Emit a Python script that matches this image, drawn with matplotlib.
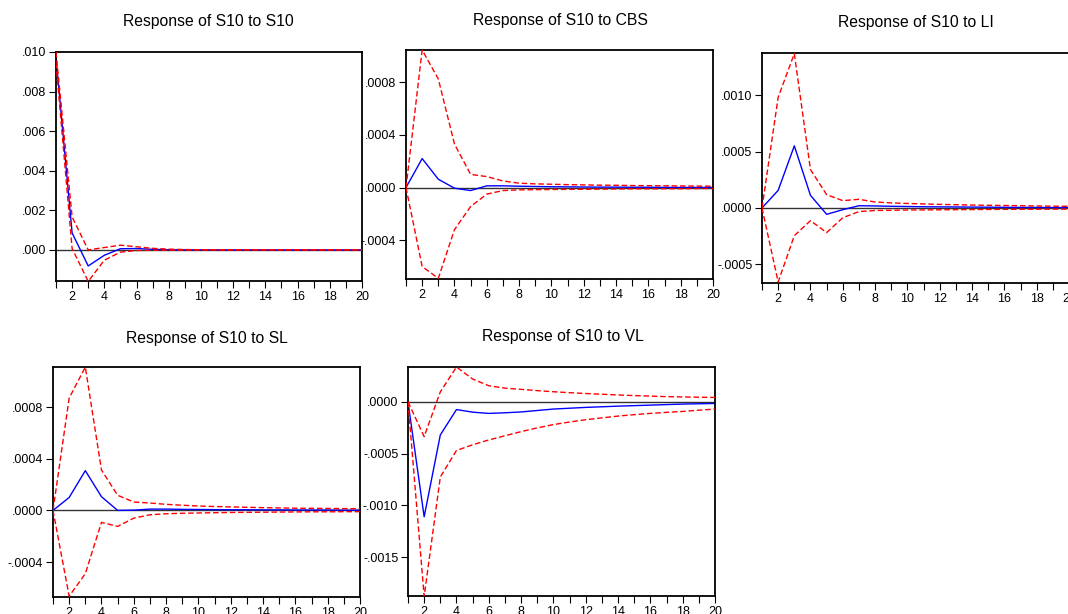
import matplotlib
matplotlib.use("Agg")
import matplotlib.pyplot as plt

plt.rcParams['font.family'] = ['Liberation Sans', 'DejaVu Sans']

periods = list(range(1, 21))

titles = ["Response of S10 to S10", "Response of S10 to CBS", "Response of S10 to LI",
          "Response of S10 to SL", "Response of S10 to VL"]

# Response of S10 to S10
s10_resp = [0.00972, 0.00086, -0.00081, -0.00027, 0.00006, 0.00007, 0.00003, 0.00001, 0.000005, 0.000003,
            0.000002, 0.000001, 0.000001, 0.0, 0.0, 0.0, 0.0, 0.0, 0.0, 0.0]
s10_up = [0.01000, 0.00167, 0.00000, 0.00012, 0.00024, 0.00016, 0.00008, 0.00004, 0.00002, 0.00001,
          0.00001, 0.000008, 0.000006, 0.000005, 0.000004, 0.000003, 0.000003, 0.000002, 0.000002, 0.000002]
s10_lo = [0.00944, 0.00007, -0.00159, -0.00052, -0.00011, -0.00003, -0.00002, -0.00001, -0.000008, -0.000006,
          -0.000005, -0.000004, -0.000004, -0.000003, -0.000003, -0.000002, -0.000002, -0.000002, -0.000002, -0.000002]

# Response of S10 to CBS
cbs_resp = [0.0, 0.00022, 0.000063, -0.000005, -0.000023, 0.000013, 0.000013, 0.00001, 0.000008, 0.000006,
            0.000005, 0.000004, 0.000003, 0.000003, 0.000002, 0.000002, 0.000001, 0.000001, 0.000001, 0.000001]
cbs_up = [0.0, 0.001045, 0.000825, 0.00033, 0.0001, 0.000083, 0.00005, 0.000033, 0.000028, 0.000025,
          0.000022, 0.00002, 0.000018, 0.000017, 0.000015, 0.000014, 0.000013, 0.000012, 0.000011, 0.00001]
cbs_lo = [0.0, -0.0006, -0.00069, -0.00032, -0.000144, -0.00005, -0.000023, -0.000018, -0.000016, -0.000015,
          -0.000014, -0.000013, -0.000012, -0.000011, -0.00001, -0.00001, -0.000009, -0.000009, -0.000008, -0.000008]

# Response of S10 to LI
li_resp = [0.0, 0.000156, 0.00055, 0.000112, -0.000056, -0.000015, 0.00002, 0.000018, 0.000015, 0.000013,
           0.000011, 0.00001, 0.000009, 0.000008, 0.000007, 0.000006, 0.000005, 0.000005, 0.000004, 0.000004]
li_up = [0.0, 0.00098, 0.001366, 0.00034, 0.000118, 0.000065, 0.000077, 0.000053, 0.000045, 0.00004,
         0.000036, 0.000032, 0.000029, 0.000026, 0.000024, 0.000022, 0.00002, 0.000018, 0.000016, 0.000015]
li_lo = [0.0, -0.000655, -0.000245, -0.000112, -0.000218, -0.000086, -0.000032, -0.000022, -0.00002, -0.000018,
         -0.000017, -0.000016, -0.000015, -0.000014, -0.000013, -0.000012, -0.000011, -0.000011, -0.00001, -0.00001]

# Response of S10 to SL
sl_resp = [0.0, 0.0001, 0.000308, 0.000106, 0.0, 0.000002, 0.00001, 0.00001, 0.000008, 0.000007,
           0.000006, 0.000005, 0.000005, 0.000004, 0.000004, 0.000003, 0.000003, 0.000003, 0.000002, 0.000002]
sl_up = [0.0, 0.00087, 0.00111, 0.000313, 0.000117, 0.000065, 0.000057, 0.000047, 0.00004, 0.000034,
         0.00003, 0.000027, 0.000024, 0.000021, 0.000019, 0.000017, 0.000016, 0.000015, 0.000014, 0.000013]
sl_lo = [0.0, -0.000665, -0.00049, -0.000093, -0.000124, -0.00006, -0.000034, -0.000026, -0.000022, -0.00002,
         -0.000018, -0.000016, -0.000015, -0.000014, -0.000013, -0.000012, -0.000011, -0.000011, -0.00001, -0.00001]

# Response of S10 to VL
vl_resp = [0.0, -0.00111, -0.00032, -0.000075, -0.0001, -0.000112, -0.000106, -0.000098, -0.000084, -0.00007,
           -0.000062, -0.000054, -0.000048, -0.000042, -0.000037, -0.000032, -0.000027, -0.000022, -0.000019, -0.000016]
vl_up = [0.0, -0.000336, 0.000096, 0.000336, 0.00022, 0.000155, 0.000132, 0.00012, 0.000108, 0.000097,
         0.000088, 0.00008, 0.000073, 0.000066, 0.00006, 0.000055, 0.00005, 0.000047, 0.000044, 0.000042]
vl_lo = [0.0, -0.00188, -0.000726, -0.00047, -0.000415, -0.000368, -0.000328, -0.000288, -0.000252, -0.00022,
         -0.000195, -0.000173, -0.000155, -0.000138, -0.000124, -0.000112, -0.000102, -0.000093, -0.000081, -0.00007]

responses = [s10_resp, cbs_resp, li_resp, sl_resp, vl_resp]
uppers = [s10_up, cbs_up, li_up, sl_up, vl_up]
lowers = [s10_lo, cbs_lo, li_lo, sl_lo, vl_lo]

ytick_vals = [
    [0.0, 0.002, 0.004, 0.006, 0.008, 0.010],
    [-0.0004, 0.0, 0.0004, 0.0008],
    [-0.0005, 0.0, 0.0005, 0.0010],
    [-0.0004, 0.0, 0.0004, 0.0008],
    [-0.0015, -0.0010, -0.0005, 0.0],
]
ytick_labels = [
    [".000", ".002", ".004", ".006", ".008", ".010"],
    ["-.0004", ".0000", ".0004", ".0008"],
    ["-.0005", ".0000", ".0005", ".0010"],
    ["-.0004", ".0000", ".0004", ".0008"],
    ["-.0015", "-.0010", "-.0005", ".0000"],
]
ylims = [(-0.00157, 0.0100), (-0.000695, 0.001045), (-0.000664, 0.001372),
         (-0.000671, 0.001111), (-0.001875, 0.000336)]

W, H = 1068, 614
# pixel boxes: left, right, top, bottom
boxes = [(56, 362, 52, 281), (406, 713, 50, 279), (762, 1069, 53, 283),
         (53, 360, 367, 597), (408, 715, 367, 596)]
title_pos = [(208, 21.5), (560, 20), (916, 22.5), (207, 338), (563, 337)]

fig = plt.figure(figsize=(W / 100, H / 100), dpi=100)
fig.patch.set_facecolor('white')

for i in range(5):
    l, r, t, b = boxes[i]
    ax = fig.add_axes([l / W, 1 - b / H, (r - l) / W, (b - t) / H])
    ax.axhline(0, color='#333333', lw=1.0, zorder=1)
    ax.plot(periods, responses[i], color='#0000ff', lw=1.0, zorder=2)
    ax.plot(periods, uppers[i], color='#ff0000', lw=1.0, ls=(0, (4, 2)), zorder=3)
    ax.plot(periods, lowers[i], color='#ff0000', lw=1.0, ls=(0, (4, 2)), zorder=3)
    ax.set_xlim(1, 20)
    ax.set_ylim(*ylims[i])
    ax.set_xticks(periods)
    ax.set_xticklabels([str(p) if p % 2 == 0 else "" for p in periods])
    ax.set_yticks(ytick_vals[i])
    ax.set_yticklabels(ytick_labels[i])
    ax.tick_params(axis='both', direction='out', length=5, width=0.8, labelsize=9, pad=2,
                   colors='black', top=False, right=False)
    for s in ax.spines.values():
        s.set_linewidth(1.3)
        s.set_color('black')
    tx, ty = title_pos[i]
    fig.text(tx / W, 1 - ty / H, titles[i], ha='center', va='center', fontsize=11.3)

fig.savefig("out.png", dpi=100, facecolor='white')
